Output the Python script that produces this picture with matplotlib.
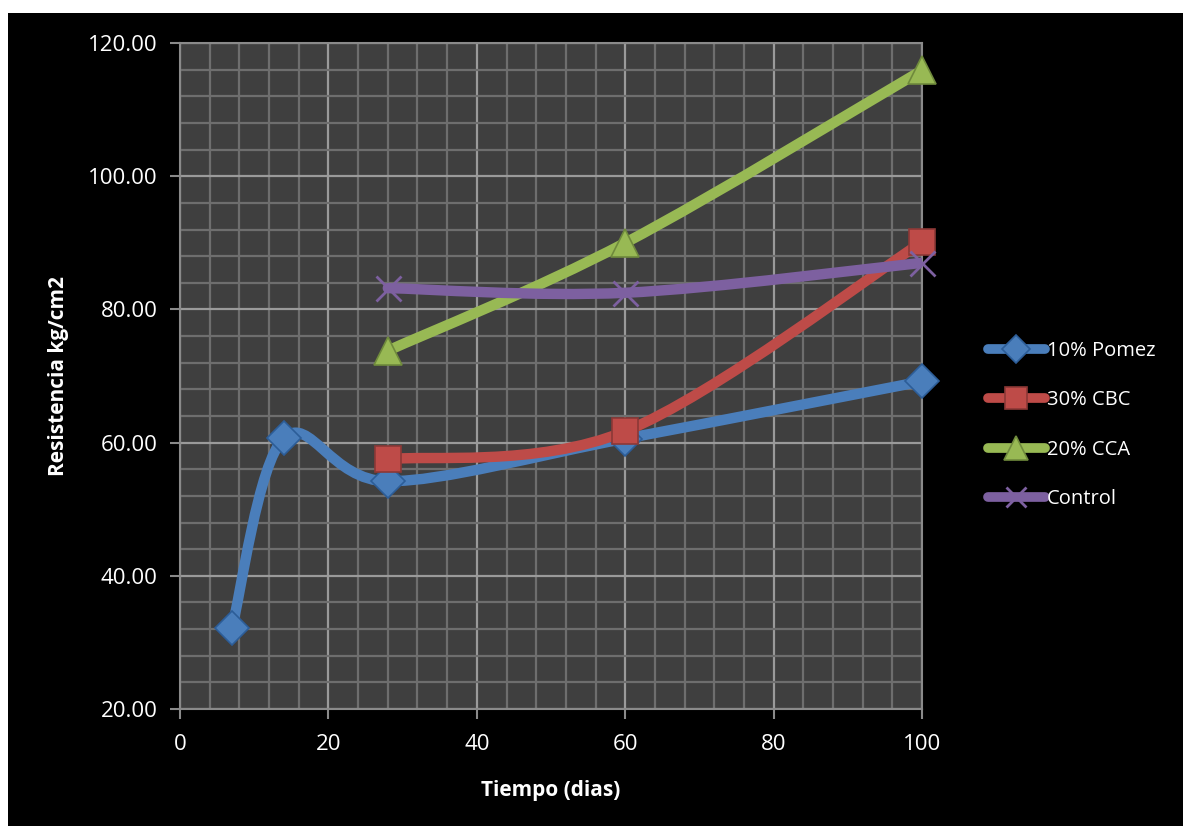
# Resistencia vs tiempo, curvas suavizadas estilo Excel
import matplotlib.pyplot as plt
import numpy as np
from matplotlib.path import Path
from matplotlib.patches import PathPatch, Rectangle
from matplotlib.lines import Line2D
from matplotlib.ticker import MultipleLocator, FormatStrFormatter

plt.rcParams['font.family'] = ['Open Sans', 'DejaVu Sans']

# valeurs
t_pomez = [7, 14, 28, 60, 100]
r_pomez = [32.2, 60.7, 54.2, 60.6, 69.2]
t_cbc = [28, 60, 100]
r_cbc = [57.5, 61.7, 90.1]
t_cca = [28, 60, 100]
r_cca = [73.8, 90.0, 115.9]
t_control = [28, 60, 100]
r_control = [83.2, 82.5, 87.0]

labels = ["10% Pomez", "30% CBC", "20% CCA", "Control"]
colors = ["#4a7ebb", "#be4b48", "#98b954", "#7d60a0"]
edges = ["#2c5d98", "#8c3836", "#6f8a3c", "#7d60a0"]
markers = ["D", "s", "^", "x"]
msizes = [17, 19, 20, 18]


def smooth_path(x, y):
    # courbe de Bézier type Catmull-Rom (lissage Excel)
    pts = np.column_stack([x, y]).astype(float)
    n = len(pts)
    verts = [pts[0]]
    codes = [Path.MOVETO]
    for i in range(n - 1):
        p0 = pts[i - 1] if i > 0 else pts[i]
        p1 = pts[i]
        p2 = pts[i + 1]
        p3 = pts[i + 2] if i + 2 < n else pts[i + 1]
        c1 = p1 + (p2 - p0) / 6
        c2 = p2 - (p3 - p1) / 6
        verts += [c1, c2, p2]
        codes += [Path.CURVE4] * 3
    return Path(verts, codes)


fig = plt.figure(figsize=(11.83, 8.26), dpi=100, facecolor="white")
fig.patches.append(Rectangle((8 / 1183, 0), 1, 813 / 826, transform=fig.transFigure,
                             facecolor="black", edgecolor="none", zorder=-10))
ax = fig.add_axes([0.1522, 0.1416, 0.7794 - 0.1522, 0.9479 - 0.1416])
ax.set_facecolor("#3f3f3f")

ax.set_xlim(0, 100)
ax.set_ylim(20, 120)
ax.xaxis.set_major_locator(MultipleLocator(20))
ax.xaxis.set_minor_locator(MultipleLocator(4))
ax.yaxis.set_major_locator(MultipleLocator(20))
ax.yaxis.set_minor_locator(MultipleLocator(4))
ax.yaxis.set_major_formatter(FormatStrFormatter("%.2f"))
ax.grid(which="major", color="#9a9a9a", linewidth=1.6)
ax.grid(which="minor", color="#6e6e6e", linewidth=1.6)
ax.set_axisbelow(True)
for s in ax.spines.values():
    s.set_color("#8a8a8a")
    s.set_linewidth(1.5)
ax.tick_params(which="major", colors="#8a8a8a", length=7, width=1.5, labelcolor="white",
               labelsize=16, pad=9)
ax.tick_params(axis="x", pad=11)
ax.tick_params(which="minor", length=0)

ax.set_xlabel("Tiempo (dias)", color="white", fontsize=15, fontweight="bold", labelpad=18)
ax.set_ylabel("Resistencia kg/cm2", color="white", fontsize=15, fontweight="bold", labelpad=14)

series = [(t_pomez, r_pomez), (t_cbc, r_cbc), (t_cca, r_cca), (t_control, r_control)]
handles = []
for k, (t, r) in enumerate(series):
    ax.add_patch(PathPatch(smooth_path(t, r), facecolor="none", edgecolor=colors[k],
                           linewidth=7.5, capstyle="round", joinstyle="round", zorder=3 + k))
    if markers[k] == "x":
        ax.plot(t, r, linestyle="none", marker="x", markersize=msizes[k], mew=2,
                color=colors[k], zorder=3.5 + k, clip_on=False)
    else:
        ax.plot(t, r, linestyle="none", marker=markers[k], markersize=msizes[k],
                markerfacecolor=colors[k], markeredgecolor=edges[k], mew=1.2,
                zorder=3.5 + k, clip_on=False)
    handles.append(Line2D([], [], color=colors[k], linewidth=7, solid_capstyle="round",
                          marker=markers[k], markersize=msizes[k] - 3,
                          markerfacecolor=colors[k], markeredgecolor=edges[k],
                          mew=2 if markers[k] == "x" else 1.2))

leg = fig.legend(handles=handles, labels=labels, loc="center left",
                 bbox_to_anchor=(970 / 1183, 1 - 425 / 826), frameon=False,
                 fontsize=14.5, labelcolor="white", handlelength=2.8, handletextpad=0.1,
                 labelspacing=1.45)

plt.savefig("out.png", dpi=100, facecolor=fig.get_facecolor())
